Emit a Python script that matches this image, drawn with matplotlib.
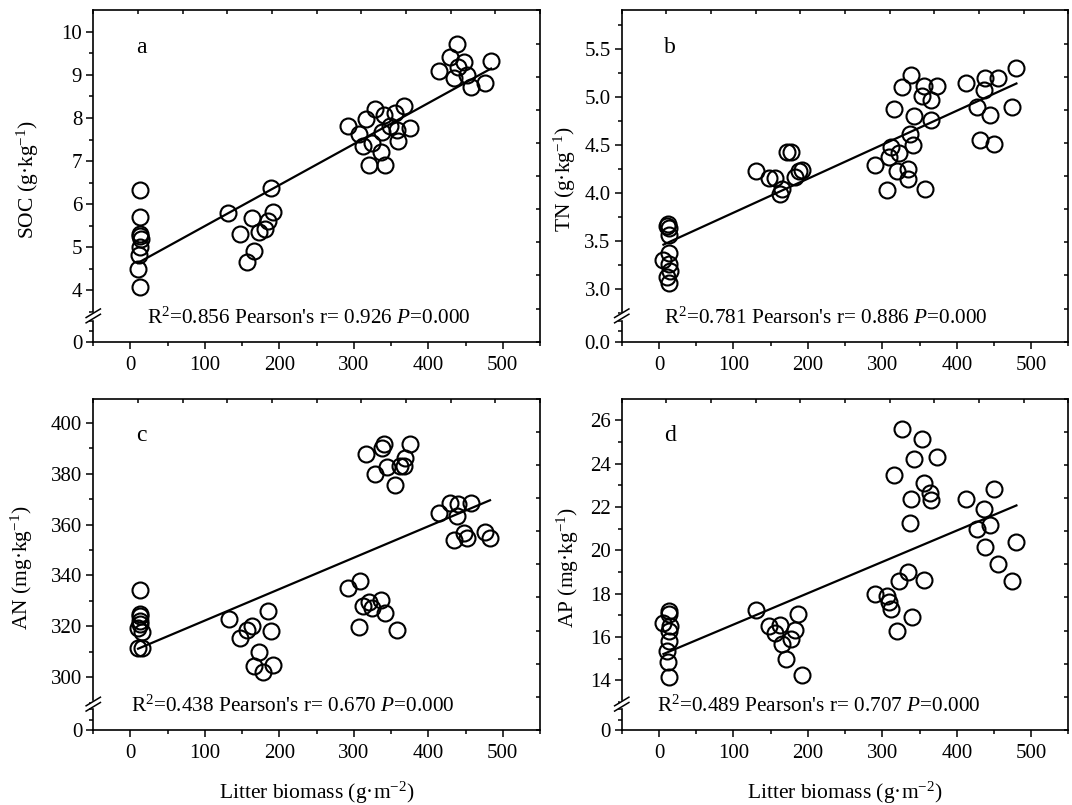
#!/usr/bin/env python3
import matplotlib

matplotlib.use("Agg")
import matplotlib.pyplot as plt
import numpy as np
from matplotlib.ticker import FixedLocator, FormatStrFormatter

plt.rcParams["font.family"] = ["Liberation Serif", "DejaVu Serif"]
plt.rcParams["mathtext.fontset"] = "custom"
plt.rcParams["mathtext.rm"] = "Liberation Serif"
plt.rcParams["mathtext.it"] = "Liberation Serif:italic"

# litter biomass (g m-2) and soil values
SOC_X = [12.5, 12.5, 12.5, 13.0, 14.0, 13.0, 11.0, 10.0, 12.5,
         130.4, 147.5, 156.8, 162.8, 166.0, 173.0, 180.4, 184.5, 189.0, 192.0,
         292.3, 307.6, 312.2, 316.8, 321.0, 324.7, 327.9, 336.3, 337.2, 341.9,
         341.0, 347.9, 354.8, 358.5, 359.4, 367.7, 375.6,
         414.0, 428.8, 438.0, 434.8, 440.4, 447.4, 452.0, 458.0, 476.0, 484.3]
SOC_Y = [6.32, 5.70, 5.31, 5.25, 5.18, 5.01, 4.81, 4.50, 4.08,
         5.80, 5.30, 4.66, 5.67, 4.90, 5.36, 5.41, 5.61, 6.38, 5.82,
         7.81, 7.62, 7.35, 7.97, 6.91, 7.42, 8.21, 7.22, 7.68, 6.91,
         8.06, 7.81, 8.12, 7.71, 7.46, 8.29, 7.77,
         9.10, 9.41, 9.72, 8.93, 9.18, 9.30, 9.01, 8.72, 8.82, 9.32]

TN_X = [12.0, 10.6, 13.0, 13.0, 13.0, 6.0, 13.0, 10.6, 14.3, 13.0,
        130.9, 147.1, 156.3, 165.6, 161.9, 172.5, 177.2, 183.2, 188.7, 192.0,
        290.5, 306.7, 309.0, 311.3, 315.0, 319.2, 322.9, 326.0, 334.4, 334.4,
        336.7, 339.0, 341.4, 342.7, 352.9, 356.6, 357.5, 365.4, 365.4, 373.7,
        412.1, 426.9, 431.5, 436.2, 438.5, 444.0, 450.0, 454.7, 474.6, 480.1]
TN_Y = [3.68, 3.66, 3.63, 3.56, 3.37, 3.30, 3.26, 3.13, 3.19, 3.06,
        4.23, 4.16, 4.16, 4.04, 3.99, 4.43, 4.43, 4.17, 4.23, 4.24,
        4.29, 4.03, 4.37, 4.48, 4.87, 4.23, 4.42, 5.10, 4.25, 4.15,
        4.61, 5.23, 4.50, 4.80, 5.01, 5.11, 4.04, 4.97, 4.76, 5.11,
        5.14, 4.90, 4.55, 5.07, 5.20, 4.81, 4.51, 5.20, 4.90, 5.30]

AN_X = [12.5, 12.5, 13.4, 12.5, 12.5, 10.2, 14.8, 10.2, 14.8,
        131.8, 147.5, 155.9, 163.7, 166.0, 173.0, 177.6, 184.5, 189.2, 192.0,
        292.3, 308.5, 307.1, 312.2, 316.8, 320.0, 324.7, 327.9, 336.2, 337.2,
        340.0, 341.9, 344.6, 354.8, 358.5, 361.7, 367.7, 368.6, 375.6,
        414.0, 428.8, 440.4, 438.2, 434.8, 447.3, 452.0, 458.0, 476.4, 482.9]
AN_Y = [334.4, 324.8, 323.9, 322.2, 321.0, 319.3, 317.7, 311.4, 311.4,
        322.8, 315.4, 318.6, 320.0, 304.2, 309.8, 302.2, 326.2, 318.0, 304.6,
        335.0, 337.9, 319.7, 328.1, 387.8, 329.4, 327.4, 379.9, 330.4, 390.2,
        391.5, 325.2, 382.5, 375.5, 318.6, 382.9, 382.9, 386.0, 391.7,
        364.6, 368.5, 368.1, 363.3, 354.1, 356.7, 354.7, 368.5, 357.0, 354.7]

AP_X = [13.0, 13.0, 6.0, 14.3, 13.0, 13.0, 10.6, 12.0, 13.0,
        130.9, 147.1, 156.3, 162.4, 165.6, 171.1, 177.2, 183.2, 187.3, 192.0,
        290.5, 305.7, 309.0, 311.3, 315.0, 319.2, 322.0, 326.0, 334.4, 336.7,
        338.1, 340.0, 342.7, 352.9, 356.6, 356.6, 364.5, 365.4, 373.7,
        412.1, 426.9, 436.2, 438.5, 444.0, 450.0, 454.7, 474.6, 480.1]
AP_Y = [17.19, 17.04, 16.65, 16.53, 16.26, 15.83, 15.37, 14.85, 14.14,
        17.25, 16.50, 16.19, 16.54, 15.68, 15.00, 15.91, 16.34, 17.04, 14.23,
        17.99, 17.91, 17.60, 17.30, 23.46, 16.27, 18.58, 25.58, 19.01, 21.27,
        22.35, 16.93, 24.23, 25.12, 23.12, 18.62, 22.66, 22.32, 24.31,
        22.35, 21.00, 21.89, 20.16, 21.15, 22.84, 19.35, 18.58, 20.38]

PANEL_LETTERS = ["a", "b", "c", "d"]
Y_LABELS = [r"SOC (g·kg$^{-1}$)", r"TN (g·kg$^{-1}$)",
            r"AN (mg·kg$^{-1}$)", r"AP (mg·kg$^{-1}$)"]
R2 = ["0.856", "0.781", "0.438", "0.489"]
PEARSON_R = ["0.926", "0.886", "0.670", "0.707"]
P_VALUES = ["0.000", "0.000", "0.000", "0.000"]

# broken y axis: (upper segment min, max), major ticks, minor step, label format
Y_RANGES = [(3.4, 10.5), (2.72, 5.9), (289.4, 409.5), (12.9, 27.0)]
Y_MAJOR = [[4, 5, 6, 7, 8, 9, 10], [3.0, 3.5, 4.0, 4.5, 5.0, 5.5],
           [300, 320, 340, 360, 380, 400], [14, 16, 18, 20, 22, 24, 26]]
Y_MINOR_STEP = [0.5, 0.25, 10, 1]
Y_FMT = ["%d", "%.1f", "%d", "%d"]

LABEL_X = [-0.147, -0.128, -0.159, -0.12]
TEXT_X = [0.121, 0.095, 0.084, 0.080]

LOW_FRAC = 0.078  # share of axis height taken by the 0 segment below the break


def make_scale(umin, umax):
    h = LOW_FRAC / (1 - LOW_FRAC) * (umax - umin)

    def fwd(y):
        y = np.asarray(y, dtype=float)
        return np.where(y < umin, y * h / umin, h + (y - umin))

    def inv(t):
        t = np.asarray(t, dtype=float)
        return np.where(t < h, t * umin / h, umin + (t - h))

    return fwd, inv


def draw_break(ax):
    dx, dy, gap = 0.016, 0.013, 0.008
    yb = LOW_FRAC
    ax.fill_between([-0.004, 0.004], yb - gap, yb + gap, color="white",
                    transform=ax.transAxes, clip_on=False, zorder=5)
    for off in (-gap, gap):
        ax.plot([-dx, dx], [yb + off - dy, yb + off + dy], color="black",
                lw=1.1, transform=ax.transAxes, clip_on=False, zorder=6)


def draw_panel(fig, rect, i, xs, ys, bottom_row):
    ax = fig.add_axes(rect)
    umin, umax = Y_RANGES[i]
    ax.set_yscale("function", functions=make_scale(umin, umax))
    ax.set_ylim(0, umax)
    ax.set_xlim(-50, 550)

    xs = np.asarray(xs)
    ys = np.asarray(ys)
    ax.plot(xs, ys, "o", ms=11.5, mfc="none", mec="black", mew=1.5, zorder=3)
    slope, icpt = np.polyfit(xs, ys, 1)
    xf = np.array([xs.min(), xs.max()])
    ax.plot(xf, icpt + slope * xf, color="black", lw=1.6, zorder=2)

    # ticks
    major = [0] + Y_MAJOR[i]
    step = Y_MINOR_STEP[i]
    minor = [umin * 0.4, umin * 0.8]
    m = Y_MAJOR[i][0] - step
    while m > umin:
        minor.append(m)
        m -= step
    m = Y_MAJOR[i][0] + step
    while m < umax:
        minor.append(m)
        m += step
    ax.yaxis.set_major_locator(FixedLocator(major))
    ax.yaxis.set_minor_locator(FixedLocator(minor))
    ax.yaxis.set_major_formatter(FormatStrFormatter(Y_FMT[i]))
    ax.xaxis.set_major_locator(FixedLocator([0, 100, 200, 300, 400, 500]))
    ax.xaxis.set_minor_locator(FixedLocator([-50, 50, 150, 250, 350, 450, 550]))
    ax.tick_params(which="both", direction="out", top=False, right=False,
                   width=1.1, labelsize=15)
    ax.tick_params(which="major", length=5)
    ax.tick_params(which="minor", length=3)
    ax.tick_params(axis="y", pad=3)
    ax.tick_params(axis="x", pad=5)
    for spine in ax.spines.values():
        spine.set_linewidth(1.2)

    # opposite axes carry their own evenly spaced inward ticks
    ov = fig.add_axes(rect, frameon=False)
    ov.set_xlim(0, 1)
    ov.set_ylim(0, 1)
    ov.patch.set_visible(False)
    ov.set_xticks(np.linspace(0, 1, 11))
    ov.set_yticks(np.linspace(0, 1, 11))
    ov.tick_params(direction="in", length=3, width=1.1, bottom=False, left=False,
                   top=True, right=True, labelbottom=False, labelleft=False)

    draw_break(ax)

    ax.set_ylabel(Y_LABELS[i], fontsize=15.5, va="center")
    ax.yaxis.set_label_coords(LABEL_X[i], 0.49)
    if bottom_row:
        ax.set_xlabel(r"Litter biomass (g·m$^{-2}$)", fontsize=15.5, va="center")
        ax.xaxis.set_label_coords(0.5, -0.19)

    ax.text(0.108, 0.888, PANEL_LETTERS[i], transform=ax.transAxes,
            fontsize=17, ha="center", va="center")
    ax.text(TEXT_X[i], 0.072,
            rf"R$^2$={R2[i]} Pearson's r= {PEARSON_R[i]} $P$={P_VALUES[i]}",
            transform=ax.transAxes, fontsize=15.3, ha="left", va="center")
    return ax


def main():
    fig = plt.figure(figsize=(10.72, 8.05), dpi=100)
    fig.patch.set_facecolor("white")
    w, h = 0.4167, 0.4115
    rects = [
        [0.0870, 0.5755, w, h],
        [0.5800, 0.5755, w, h],
        [0.0870, 0.0932, w, h],
        [0.5800, 0.0932, w, h],
    ]
    data = [(SOC_X, SOC_Y), (TN_X, TN_Y), (AN_X, AN_Y), (AP_X, AP_Y)]
    for i, (rect, (xs, ys)) in enumerate(zip(rects, data)):
        draw_panel(fig, rect, i, xs, ys, bottom_row=i >= 2)
    fig.savefig("out.png", dpi=100)
    plt.close(fig)


if __name__ == "__main__":
    main()
